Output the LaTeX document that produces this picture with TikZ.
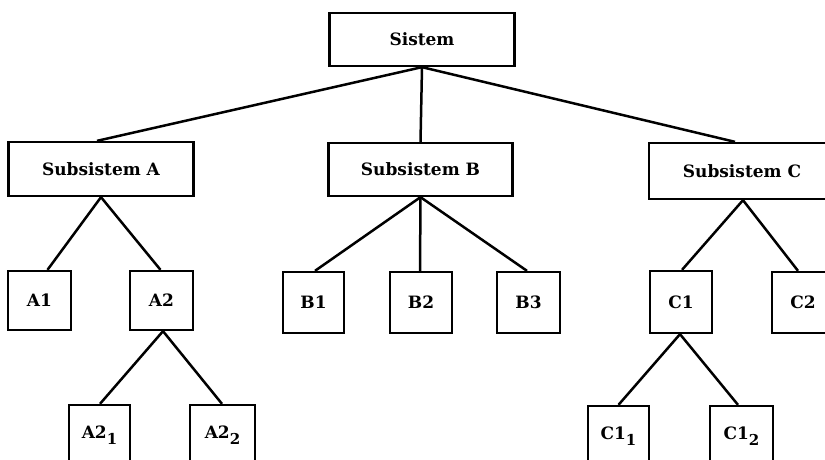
\documentclass[tikz,border=0pt]{standalone}
\usepackage{fontspec}
\setmainfont{DejaVu Serif}
\begin{document}
\begin{tikzpicture}[x=1pt,y=-1pt,
  box/.style={draw=black,line width=2.3pt,inner sep=0pt,font=\bfseries\fontsize{17}{20}\selectfont},
  bigbox/.style={box,minimum width=185pt,minimum height=54pt},
  smallbox/.style={box,minimum width=62pt,minimum height=60pt},
  conn/.style={draw=black,line width=2.5pt}]
\useasboundingbox (0,0) rectangle (825,459);
\clip (0,0) rectangle (825,459);
% top
\node[bigbox,minimum height=53pt] (sys) at (422,39.5) {Sistem};
\node[bigbox] (sa) at (101,169) {Subsistem A};
\node[bigbox,minimum width=184pt,minimum height=53pt] (sb) at (420.5,169.5) {Subsistem B};
\node[bigbox,minimum width=186pt,minimum height=56pt] (sc) at (742,171) {Subsistem C};
% level 2
\node[smallbox,minimum width=63pt,minimum height=59pt] (a1) at (39.5,300.5) {A1};
\node[smallbox,minimum width=63pt,minimum height=59pt] (a2) at (161.5,300.5) {A2};
\node[smallbox,minimum width=61pt,minimum height=61pt] (b1) at (313.5,302.5) {B1};
\node[smallbox,minimum height=61pt] (b2) at (421,302.5) {B2};
\node[smallbox,minimum width=63pt,minimum height=61pt] (b3) at (528.5,302.5) {B3};
\node[smallbox,minimum height=62pt] (c1) at (681,302) {C1};
\node[smallbox,minimum height=61pt] (c2) at (803,302.5) {C2};
% level 3
\node[smallbox,minimum width=61pt,minimum height=61pt] (a21) at (99.5,435.5) {A2\raisebox{-6pt}{\fontsize{15}{17}\selectfont 1}};
\node[smallbox,minimum width=65pt,minimum height=61pt] (a22) at (222.5,435.5) {A2\raisebox{-6pt}{\fontsize{15}{17}\selectfont 2}};
\node[smallbox,minimum width=61pt,minimum height=61pt] (c11) at (618.5,436.5) {C1\raisebox{-6pt}{\fontsize{15}{17}\selectfont 1}};
\node[smallbox,minimum width=63pt,minimum height=61pt] (c12) at (741.5,436.5) {C1\raisebox{-6pt}{\fontsize{15}{17}\selectfont 2}};
% connectors
\coordinate (jsys) at (sys.south);
\path[conn] (jsys) -- ([xshift=-4pt]sa.north);
\path[conn] (jsys) -- (sb.north);
\path[conn] (jsys) -- ([xshift=-7pt]sc.north);
\coordinate (jsa) at (sa.south);
\path[conn] (jsa) -- ([xshift=8pt]a1.north);
\path[conn] (jsa) -- ([xshift=-1pt]a2.north);
\coordinate (jsb) at (sb.south);
\path[conn] (jsb) -- ([xshift=1.5pt]b1.north);
\path[conn] (jsb) -- ([xshift=-1pt]b2.north);
\path[conn] (jsb) -- ([xshift=-1.5pt]b3.north);
\coordinate (jsc) at ([xshift=1pt]sc.south);
\path[conn] (jsc) -- ([xshift=1pt]c1.north);
\path[conn] (jsc) -- ([xshift=-5pt]c2.north);
\coordinate (ja2) at ([xshift=1.5pt]a2.south);
\path[conn] (ja2) -- ([xshift=0.5pt]a21.north);
\path[conn] (ja2) -- ([xshift=-0.5pt]a22.north);
\coordinate (jc1) at ([xshift=-1pt]c1.south);
\path[conn] (jc1) -- (c11.north);
\path[conn] (jc1) -- ([xshift=-3.5pt]c12.north);
\end{tikzpicture}
\end{document}
